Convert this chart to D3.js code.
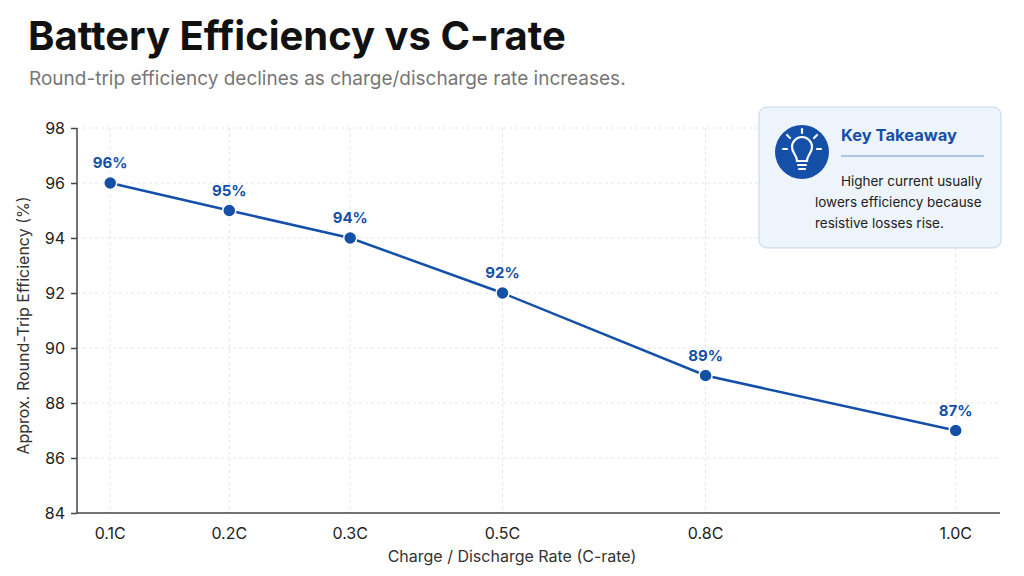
<!DOCTYPE html>
<html><head><meta charset="utf-8">
<script src="https://cdn.jsdelivr.net/npm/d3@7"></script>
<style>body{margin:0;background:#fff;font-family:Inter,"Noto Sans",sans-serif}</style>
</head><body><svg id="c" width="1024" height="576"></svg>
<script>
const categories=["0.1C","0.2C","0.3C","0.5C","0.8C","1.0C"];
const efficiency=[96,95,94,92,89,87];
const yTicks=[84,86,88,90,92,94,96,98];
// relative horizontal placement of each category along the axis (0..1)
const catPlacement=[0.036,0.165,0.296,0.461,0.681,0.952];

const svg=d3.select("#c");
const L=77,R=1000,T=128,B=513;
const x=d3.scaleLinear().domain([0,1]).range([L,R]);
const y=d3.scaleLinear().domain([84,98]).range([B,T]);
const blue="#1450a8";

svg.append("text").attr("x",28).attr("y",50).attr("font-size",40).attr("font-weight",700).attr("fill","#111").text("Battery Efficiency vs C-rate");
svg.append("text").attr("x",29).attr("y",85).attr("font-size",19).attr("fill","#777").text("Round-trip efficiency declines as charge/discharge rate increases.");

const g=svg.append("g");
yTicks.forEach(t=>{ if(t>84) g.append("line").attr("x1",L).attr("x2",R).attr("y1",y(t)).attr("y2",y(t)).attr("stroke","#e6e6e6").attr("stroke-dasharray","3,3");});
categories.forEach((c,i)=>g.append("line").attr("x1",x(catPlacement[i])).attr("x2",x(catPlacement[i])).attr("y1",T).attr("y2",B).attr("stroke","#e6e6e6").attr("stroke-dasharray","3,3"));

const ya=svg.append("g").attr("transform",`translate(${L},0)`).call(d3.axisLeft(y).tickValues(yTicks).tickSize(6).tickPadding(6));
ya.selectAll("text").attr("font-size",16).attr("fill","#222").style("font-family","Inter,sans-serif");
ya.selectAll("line,path").attr("stroke","#444").attr("stroke-width",1.5);
ya.select(".domain").attr("d",`M0,${T}V${B}`);
svg.append("line").attr("x1",L).attr("x2",R).attr("y1",B).attr("y2",B).attr("stroke","#444").attr("stroke-width",1.5);
categories.forEach((c,i)=>svg.append("text").attr("x",x(catPlacement[i])).attr("y",539).attr("text-anchor","middle").attr("font-size",16).attr("fill","#222").text(c));

svg.append("text").attr("x",512).attr("y",562).attr("text-anchor","middle").attr("font-size",16).attr("fill","#333").text("Charge / Discharge Rate (C-rate)");
svg.append("text").attr("transform",`translate(29,${(T+B)/2+5}) rotate(-90)`).attr("text-anchor","middle").attr("font-size",16).attr("fill","#333").text("Approx. Round-Trip Efficiency (%)");

const pts=categories.map((c,i)=>[x(catPlacement[i]),y(efficiency[i])]);
svg.append("path").attr("d",d3.line()(pts)).attr("fill","none").attr("stroke",blue).attr("stroke-width",2.5);
pts.forEach((p,i)=>{
 svg.append("circle").attr("cx",p[0]).attr("cy",p[1]).attr("r",6.5).attr("fill",blue).attr("stroke","#fff").attr("stroke-width",1.5);
 svg.append("text").attr("x",p[0]).attr("y",p[1]-15).attr("text-anchor","middle").attr("font-size",15).attr("font-weight",700).attr("fill",blue).text(efficiency[i]+"%");
});

svg.append("rect").attr("x",759).attr("y",107).attr("width",242).attr("height",141).attr("rx",8).attr("fill","#eef4fc").attr("stroke","#c5d6ec");
svg.append("circle").attr("cx",802).attr("cy",152).attr("r",27).attr("fill",blue);
const bulb=svg.append("g").attr("transform","translate(802,152)").attr("stroke","#fff").attr("fill","none").attr("stroke-width",2.2).attr("stroke-linecap","round");
bulb.append("path").attr("d","M-5,9 C-5,3 -10,1 -10,-5 A10,10 0 0 1 10,-5 C10,1 5,3 5,9 Z");
bulb.append("line").attr("x1",-4).attr("x2",4).attr("y1",13).attr("y2",13);
bulb.append("line").attr("x1",-3).attr("x2",3).attr("y1",17).attr("y2",17);
[[0,-19,0,-23],[-12,-14,-15,-17],[12,-14,15,-17],[-15,-3,-19,-3],[15,-3,19,-3]].forEach(l=>bulb.append("line").attr("x1",l[0]).attr("y1",l[1]).attr("x2",l[2]).attr("y2",l[3]));
svg.append("text").attr("x",841).attr("y",141).attr("font-size",16.5).attr("font-weight",700).attr("fill",blue).text("Key Takeaway");
svg.append("line").attr("x1",841).attr("x2",984).attr("y1",156).attr("y2",156).attr("stroke","#6f93c8").attr("stroke-width",1.2);
["Higher current usually","lowers efficiency because","resistive losses rise."].forEach((t,i)=>
 svg.append("text").attr("x",i==0?982:815).attr("text-anchor",i==0?"end":"start").attr("y",186+i*21).attr("font-size",13.5).attr("fill","#222").text(t));
</script></body></html>
